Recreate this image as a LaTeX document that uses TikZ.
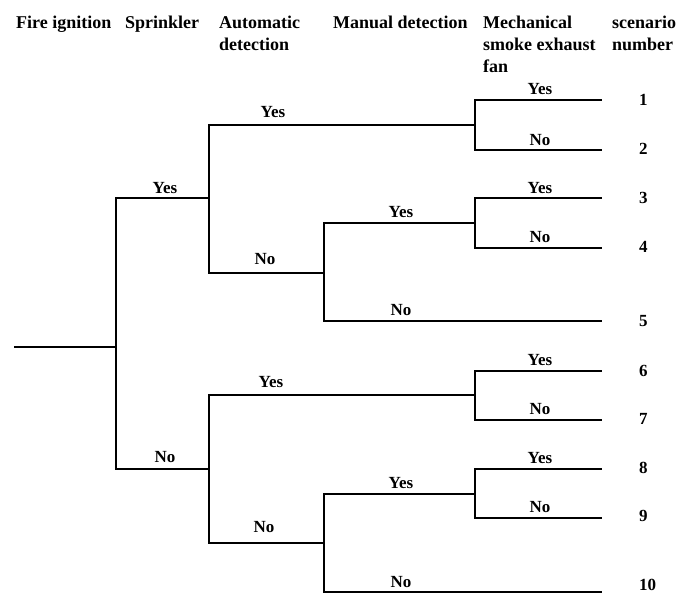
\documentclass[tikz,border=0pt]{standalone}
\usepackage{fontspec}
\setmainfont{Liberation Serif}
\usepackage{tikz}
\usetikzlibrary{positioning}

\tikzset{
  branch/.style={line width=1.1pt, black},
  head/.style={anchor=north west, inner sep=0pt, align=left, font=\fontsize{18}{22}\selectfont\bfseries},
  answer/.style={anchor=base, inner sep=0pt, font=\fontsize{17}{20}\selectfont\bfseries},
  scen/.style={anchor=base west, inner sep=0pt, font=\fontsize{17}{20}\selectfont\bfseries}
}

\begin{document}
\begin{tikzpicture}[x=1pt, y=-1pt]
\useasboundingbox (0,0) rectangle (688,594);

% Column headings
\node[head] (hfire) at (16,15.5) {Fire ignition};
\node[head] (hspr) at (125,15.5) {Sprinkler};
\node[head] (hauto) at (219,15.5) {Automatic\\detection};
\node[head] (hman) at (333,15.5) {Manual detection};
\node[head] (hfan) at (483,15.5) {Mechanical\\smoke exhaust\\fan};
\node[head] (hscen) at (612,15.5) {scenario\\number};

% Junctions
\coordinate (root) at (14,347);
\coordinate (spr) at (116,347);
\coordinate (auto1) at (209,198);
\coordinate (auto2) at (209,469);
\coordinate (man1) at (324,273);
\coordinate (man2) at (324,543);
\coordinate (fan1) at (475,125);
\coordinate (fan2) at (475,223);
\coordinate (fan3) at (475,395);
\coordinate (fan4) at (475,494);

% Ends of the branches
\coordinate (end1) at (602,100);
\coordinate (end2) at (602,150);
\coordinate (end3) at (602,198);
\coordinate (end4) at (602,248);
\coordinate (end5) at (602,321);
\coordinate (end6) at (602,371);
\coordinate (end7) at (602,420);
\coordinate (end8) at (602,469);
\coordinate (end9) at (602,518);
\coordinate (end10) at (602,592);

% Tree
\draw[branch] (root) -- (spr);
\draw[branch] (spr) |- (auto1);
\draw[branch] (spr) |- (auto2);

\draw[branch] (auto1) |- (fan1);
\draw[branch] (auto1) |- (man1);
\draw[branch] (man1) |- (fan2);
\draw[branch] (man1) |- (end5);
\draw[branch] (fan1) |- (end1);
\draw[branch] (fan1) |- (end2);
\draw[branch] (fan2) |- (end3);
\draw[branch] (fan2) |- (end4);

\draw[branch] (auto2) |- (fan3);
\draw[branch] (auto2) |- (man2);
\draw[branch] (man2) |- (fan4);
\draw[branch] (man2) |- (end10);
\draw[branch] (fan3) |- (end6);
\draw[branch] (fan3) |- (end7);
\draw[branch] (fan4) |- (end8);
\draw[branch] (fan4) |- (end9);

% Branch labels
\node[answer] (sprY) at (165,193) {Yes};
\node[answer] (sprN) at (165,462) {No};
\node[answer] (auto1Y) at (273,117) {Yes};
\node[answer] (auto1N) at (265,264) {No};
\node[answer] (auto2Y) at (271,387) {Yes};
\node[answer] (auto2N) at (264,532) {No};
\node[answer] (man1Y) at (401,217) {Yes};
\node[answer] (man1N) at (401,315) {No};
\node[answer] (man2Y) at (401,488) {Yes};
\node[answer] (man2N) at (401,587) {No};
\node[answer] (fan1Y) at (540,94) {Yes};
\node[answer] (fan1N) at (540,145) {No};
\node[answer] (fan2Y) at (540,193) {Yes};
\node[answer] (fan2N) at (540,242) {No};
\node[answer] (fan3Y) at (540,365) {Yes};
\node[answer] (fan3N) at (540,414) {No};
\node[answer] (fan4Y) at (540,463) {Yes};
\node[answer] (fan4N) at (540,512) {No};

% Scenario numbers
\node[scen] (n1) at (639,106) {1};
\node[scen] (n2) at (639,154) {2};
\node[scen] (n3) at (639,203) {3};
\node[scen] (n4) at (639,252) {4};
\node[scen] (n5) at (639,326) {5};
\node[scen] (n6) at (639,376) {6};
\node[scen] (n7) at (639,424) {7};
\node[scen] (n8) at (639,473) {8};
\node[scen] (n9) at (639,521) {9};
\node[scen] (n10) at (639,590) {10};
\end{tikzpicture}
\end{document}
